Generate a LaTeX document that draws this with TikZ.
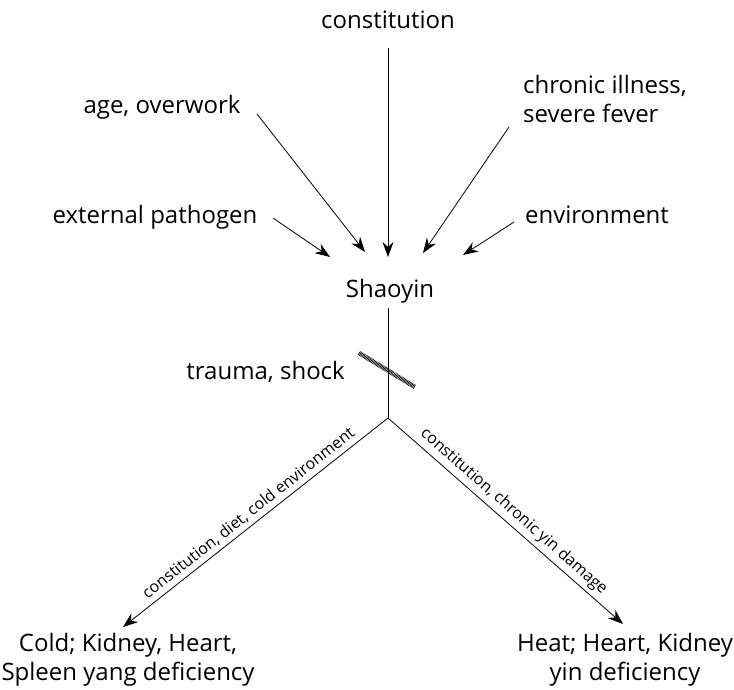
\documentclass[tikz,border=0pt]{standalone}
\usepackage{fontspec}
\setmainfont{Open Sans}
\usetikzlibrary{arrows.meta}
\begin{document}
\begin{tikzpicture}[x=1pt,y=-1pt,
  lbl/.style={font=\fontsize{24}{28.5}\selectfont, inner sep=0pt, align=center, anchor=base},
  elbl/.style={font=\fontsize{16}{18}\selectfont, inner sep=4pt},
  arr/.style={-{Stealth[length=15pt,width=11pt]}, line width=0.8pt},
  ln/.style={line width=0.8pt}]
\useasboundingbox (0,0) rectangle (734,689);
% texts (anchor base = baseline of the last line)
\node[lbl] (constitution) at (388,28) {constitution};
\node[lbl] (age) at (162,113) {age, overwork};
\node[lbl, align=left, anchor=base west] (chronic) at (523,122) {chronic illness,\\severe fever};
\node[lbl] (external) at (155,223) {external pathogen};
\node[lbl] (environment) at (597,223) {environment};
\node[lbl] (shaoyin) at (390,297) {Shaoyin};
\node[lbl, anchor=base east] (trauma) at (345,379) {trauma, shock};
\node[lbl] (cold) at (128,680) {Cold; Kidney, Heart,\\Spleen yang deficiency};
\node[lbl] (heat) at (625,680) {Heat; Heart, Kidney\\yin deficiency};
% connector end points
\coordinate (c1) at (388,48);  \coordinate (c2) at (388,257);
\coordinate (a1) at (257,114); \coordinate (a2) at (365,252);
\coordinate (h1) at (509,127); \coordinate (h2) at (423,253);
\coordinate (e1) at (273,218); \coordinate (e2) at (330,257);
\coordinate (v1) at (514,222); \coordinate (v2) at (463,255);
\coordinate (s1) at (388,308); \coordinate (j) at (388,418);
\coordinate (l2) at (123,627); \coordinate (r2) at (623,624);
\coordinate (t1) at (359,353); \coordinate (t2) at (415,387);
\draw[arr] (c1) -- (c2);
\draw[arr] (a1) -- (a2);
\draw[arr] (h1) -- (h2);
\draw[arr] (e1) -- (e2);
\draw[arr] (v1) -- (v2);
\draw[ln] (s1) -- (j);
\draw[line width=4.5pt, dash pattern=on 0.7pt off 0.7pt] (t1) -- (t2);
\draw[arr] (j) -- node[elbl, sloped, above] (ll) {constitution, diet, cold environment} (l2);
\draw[arr] (j) -- node[elbl, sloped, above] (rl) {constitution, chronic yin damage} (r2);
\end{tikzpicture}
\end{document}
